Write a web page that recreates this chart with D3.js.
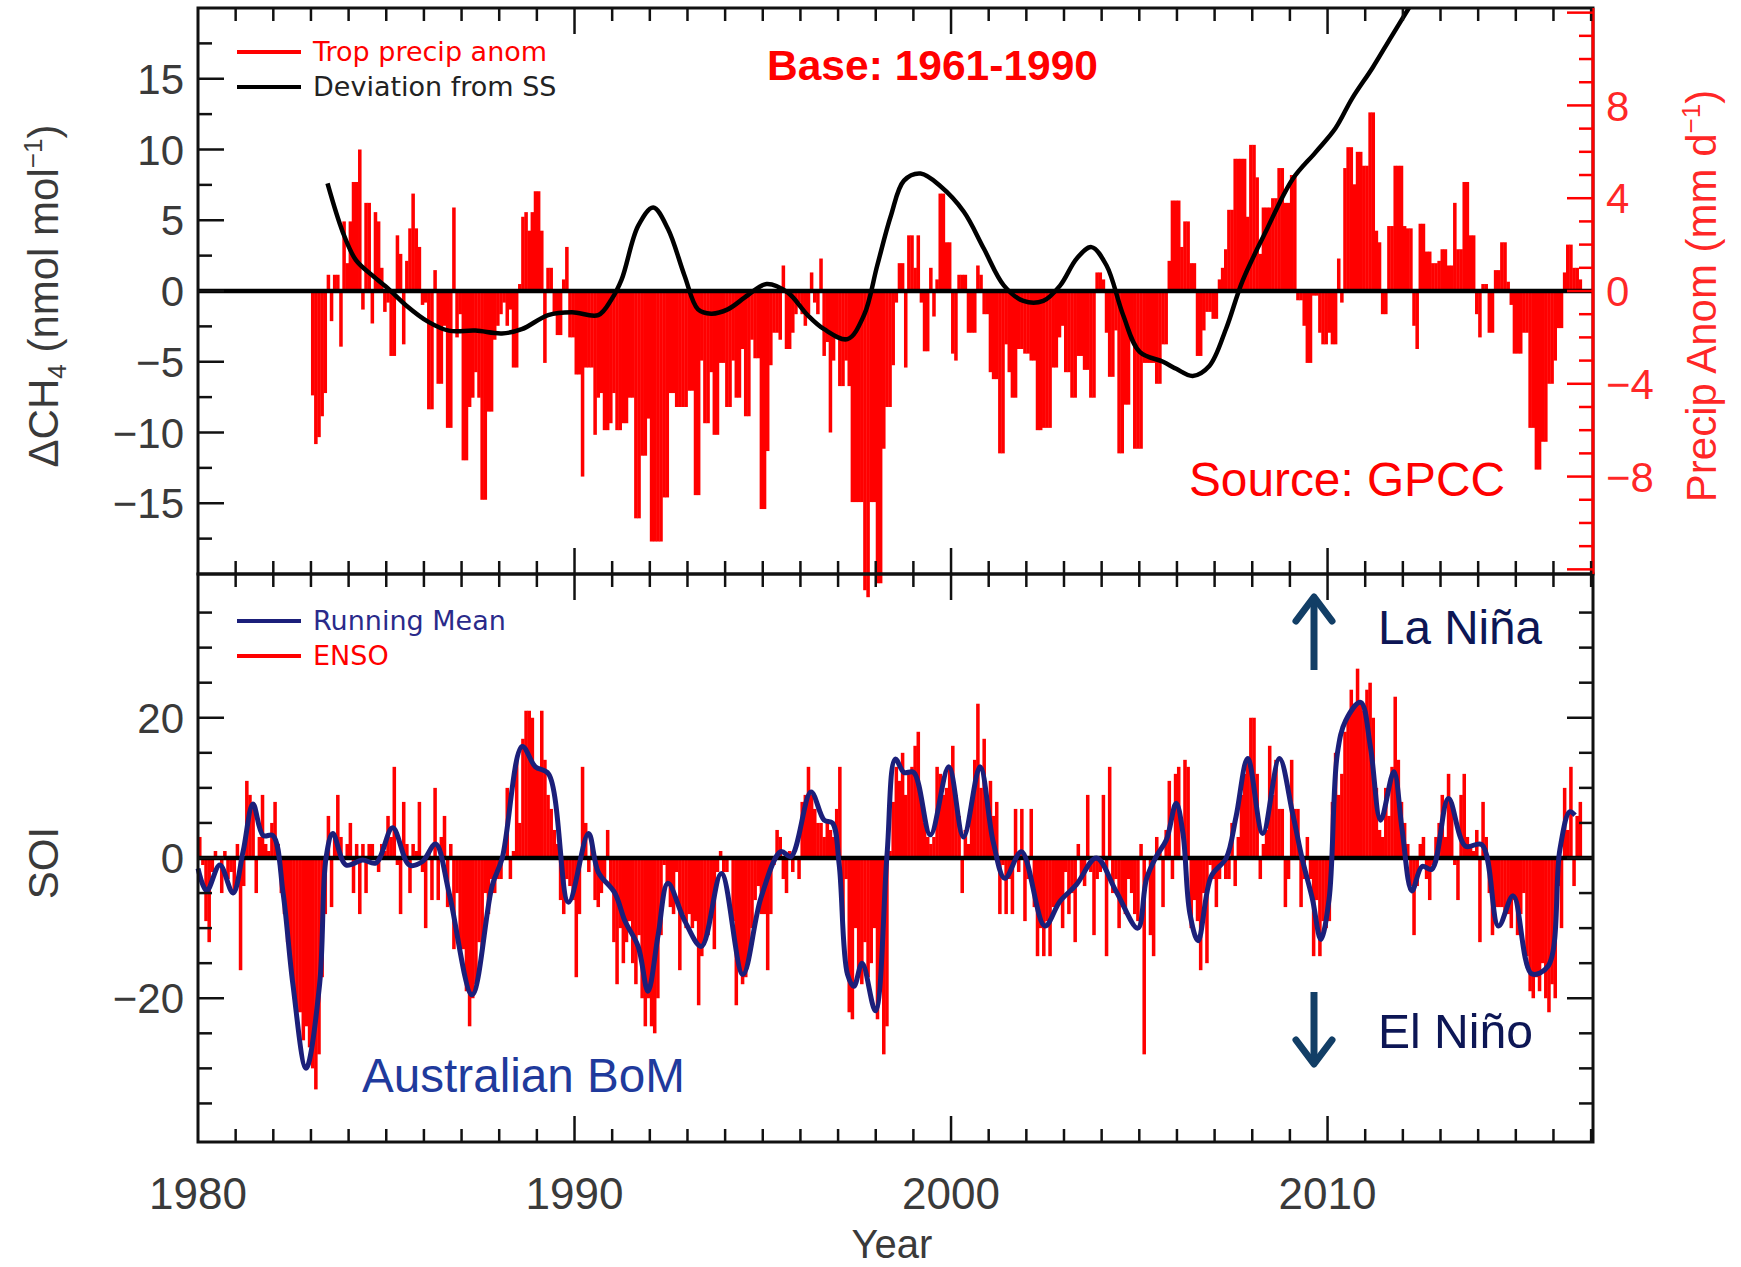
<!DOCTYPE html>
<html><head><meta charset="utf-8">
<script src="https://cdn.jsdelivr.net/npm/d3@7"></script>
<style>body{margin:0;background:#fff}</style>
</head><body>
<svg id="c" width="1741" height="1267"></svg>
<script>
// ---------- DATA ----------
const precipStartYear = 1983;
// Tropical precipitation anomaly (mm/d), monthly, 1983 .. 2016.75
const precip = [
 [-4.5,-6.6,-6.3,-5.4,-4.4,0.7,-1.3,0.7,0.7,-2.4,3.0,1.2],
 [3.0,4.7,4.7,6.1,-0.8,3.8,3.8,-1.4,3.4,3.0,1.0,-0.9],
 [-0.5,-2.8,-2.8,2.4,1.6,-2.3,1.3,2.7,4.2,2.7,1.9,-0.6],
 [-0.5,-5.1,-5.1,0.9,-4.0,-4.0,-1.5,-5.9,-5.9,3.6,-2.0,-1.0],
 [-7.3,-7.3,-5.0,-4.6,-3.5,-4.6,-9.0,-9.0,-5.2,-5.2,-2.1,-1.5],
 [-1.0,-0.5,-1.5,-0.8,-3.3,-3.3,0.3,3.2,3.4,2.6,3.4,4.3],
 [4.3,2.6,-3.1,1.0,1.0,-1.0,-1.9,-1.9,0.5,1.9,-2.0,-2.0],
 [-3.6,-3.6,-8.0,-3.3,-3.3,-3.3,-6.2,-4.6,-4.4,-6.0,-6.0,-5.7],
 [-4.4,-6.0,-6.0,-5.7,-5.7,-4.6,-4.6,-9.8,-9.8,-7.1,-7.1,-5.5],
 [-10.8,-10.8,-10.8,-10.8,-8.9,-8.9,-4.4,-4.4,-5.0,-5.0,-5.0,-5.0],
 [-4.3,-4.3,-8.8,-8.8,-3.0,-5.7,-5.7,-3.5,-6.2,-6.2,-3.1,-3.1],
 [-5.0,-5.0,-3.0,-4.6,-4.6,-2.5,-5.4,-5.4,-2.1,-2.9,-2.9,-9.4],
 [-9.4,-6.9,-3.2,-1.8,-1.8,-2.1,1.1,-2.5,-2.5,-1.8,-1.0,-0.5],
 [-1.0,-1.5,-1.0,0.8,-0.5,-1.0,1.4,-2.8,-2.2,-6.1,-3.0,-2.0],
 [-4.1,-4.1,-3.0,-4.1,-9.1,-9.1,-9.1,-9.1,-12.9,-13.2,-9.1,-9.1],
 [-12.6,-12.6,-6.8,-5.0,-5.0,-3.2,-0.5,1.2,1.2,-3.3,2.4,2.4],
 [1.0,2.4,-0.5,-2.6,-2.6,1.0,-1.1,0.5,4.2,4.2,2.1,2.1],
 [-2.7,-3.0,0.7,0.7,0.7,-1.8,-1.8,-1.8,1.1,0.7,-1.0,-1.0],
 [-3.5,-3.8,-3.8,-7.0,-7.0,-2.3,-3.5,-4.6,-4.6,-2.5,-2.5,-2.7],
 [-2.7,-3.0,-3.0,-6.0,-6.0,-5.9,-5.9,-5.9,-3.3,-3.3,-2.0,-1.5],
 [-3.5,-3.5,-4.6,-4.6,-2.8,-2.8,-3.4,-3.4,-4.6,-4.6,0.8,0.8],
 [0.5,-1.8,-3.7,-3.7,-1.7,-7.0,-7.0,-4.9,-4.9,-2.0,-6.8,-6.8],
 [-6.8,-3.1,-3.1,-3.1,-3.1,-4.0,-4.0,-2.3,-2.3,1.3,3.9,3.9],
 [3.9,1.9,3.0,3.0,1.2,1.2,-2.8,-2.8,-1.7,-0.9,-0.9,-1.2],
 [-1.2,0.5,1.0,1.8,3.5,3.5,5.7,5.7,5.7,5.7,3.2,6.3],
 [6.3,4.9,1.6,3.6,3.6,3.6,4.0,4.0,5.3,5.3,3.8,3.8],
 [5.0,5.0,-0.4,-0.4,-1.5,-3.1,-3.1,-0.2,-0.2,-1.8,-2.3,-2.3],
 [-1.8,-2.3,-2.3,1.4,-0.5,5.3,6.2,6.2,4.6,6.0,6.0,5.4],
 [5.4,7.7,7.7,2.6,2.1,-1.0,-1.0,2.8,2.8,5.4,5.4,5.4],
 [2.8,2.7,2.7,-1.5,-2.5,2.9,2.9,1.7,1.7,1.2,1.2,1.3],
 [1.8,1.8,1.1,1.1,3.8,1.8,1.8,4.7,4.7,2.4,2.4,-1.0],
 [-2.0,0.3,0.3,-1.8,-1.8,0.9,0.9,2.1,2.1,0.4,-0.6,-2.7],
 [-2.7,-2.7,-1.8,-1.8,-5.9,-5.9,-7.7,-7.7,-6.5,-6.5,-4.0,-4.0],
 [-3.0,-1.6,-1.6,0.8,2.0,2.0,1.0,1.0,0.5]
];
// Deviation from steady state, CH4 (nmol/mol): [year, value]
const deviationSS = [
 [1983.44,7.6],[1983.84,4.2],[1984.19,2.2],[1984.63,1.1],[1985.08,0.1],[1985.52,-1.0],
 [1986.13,-2.2],[1986.66,-2.8],[1987.37,-2.8],[1988.07,-3.0],[1988.6,-2.7],[1989.3,-1.7],
 [1989.93,-1.5],[1990.63,-1.7],[1990.98,-0.6],[1991.25,0.8],[1991.69,4.6],[1992.09,5.9],
 [1992.48,4.4],[1992.92,1.1],[1993.28,-1.3],[1993.63,-1.6],[1994.07,-1.3],[1994.6,-0.3],
 [1995.1,0.5],[1995.66,-0.1],[1996.19,-1.7],[1996.63,-2.7],[1997.25,-3.4],[1997.69,-1.7],
 [1998.04,1.8],[1998.4,5.3],[1998.75,7.8],[1999.19,8.3],[1999.72,7.4],[2000.34,5.6],
 [2000.87,3.0],[2001.4,0.4],[2001.92,-0.7],[2002.45,-0.7],[2002.9,0.4],[2003.34,2.3],
 [2003.73,3.1],[2004.13,1.8],[2004.57,-1.7],[2005.01,-4.3],[2005.63,-5.0],[2005.98,-5.5],
 [2006.42,-6.0],[2006.86,-5.3],[2007.3,-2.7],[2007.74,0.7],[2008.36,4.2],[2009.07,7.9],
 [2009.68,9.8],[2010.21,11.5],[2010.65,13.6],[2011.2,15.8],[2011.7,18.0],[2012.3,20.6]
];
const soiStartYear = 1980;
// Southern Oscillation Index, monthly, 1980 .. 2016.75
const soi = [
 [3,-1,-9,-12,-2,1,0,-5,1,-3,-2,-5],
 [2,-16,-4,11,9,7,-5,3,9,2,1,5],
 [8,2,-5,-8,-12,-15,-20,-22,-22,-26,-24,-27],
 [-30,-33,-28,-17,-8,6,-7,3,9,3,0,2],
 [5,-5,2,-8,2,-5,2,2,0,-2,2,1],
 [6,3,13,-1,-8,8,2,-5,2,1,8,-2],
 [-10,1,-6,10,-6,3,6,-7,2,-13,-5,-13],
 [-13,-19,-24,-20,-18,-12,-13,-5,-8,-3,-5,-3],
 [-3,0,10,-3,1,14,5,17,21,21,20,13],
 [13,21,14,9,7,4,2,-6,-8,-3,-4,-6],
 [-17,-8,13,5,-2,2,-6,-7,-5,-3,4,-4],
 [-12,-18,-10,-15,-12,-9,-15,-18,-11,-20,-24,-20],
 [-24,-25,-20,-11,-1,-4,-7,-8,-2,-16,-8,-10],
 [-8,-10,-9,-21,-14,-12,-11,-8,-13,-2,1,-2],
 [-2,0,-9,-21,-16,-18,-17,-14,-10,-6,-4,-8],
 [-8,-16,-8,-1,4,3,-3,-5,1,-2,0,-3],
 [8,9,13,9,7,5,5,3,5,4,3,7],
 [13,-10,-3,-22,-23,-10,-17,-18,-12,-17,-15,-10],
 [-23,-19,-28,-24,1,8,13,11,15,9,12,13],
 [16,18,8,5,3,2,3,13,12,9,10,13],
 [16,9,6,-5,4,2,8,14,22,10,17,8],
 [11,6,8,-8,-1,-8,-3,-8,7,-2,7,-9],
 [-3,7,-7,-14,-10,-14,-9,-14,-7,-7,-6,-10],
 [-2,-8,-5,-12,2,-3,-4,9,-2,-11,-3,-2],
 [9,-14,13,-5,-3,-10,-7,-8,-3,-5,-8,-9],
 [2,-28,0,-11,-14,3,1,-7,4,11,-3,12],
 [13,0,14,13,-10,-6,-9,-16,-5,-15,-1,-3],
 [-7,-3,-1,-3,-3,5,-4,3,9,12,14,20],
 [20,12,-3,2,4,16,9,14,7,7,-7,-3],
 [14,7,7,-7,-3,3,-3,-14,-6,-14,-9,-10],
 [-9,8,15,9,12,18,20,24,22,27,22,21],
 [24,25,20,10,4,3,10,6,13,23,14,8],
 [5,2,-4,-11,-4,2,3,-3,-6,-1,3,5],
 [9,3,12,8,-1,-6,9,12,3,2,1,4],
 [-12,8,3,-5,-11,-7,-7,-7,-8,-8,-10,-6],
 [-11,-8,-5,-14,-19,-20,-17,-19,-15,-20,-22,-18],
 [-20,-4,-10,10,4,13,-4,6,8]
];
// Running mean of SOI as drawn: [year, value]
const soiRunningMean = [
 [1980.0,-1.5],[1980.23,-4.7],[1980.58,-1],[1980.93,-5],[1981.2,1],[1981.46,7.7],[1981.73,3.2],
 [1981.99,3.2],[1982.26,-5],[1982.52,-18],[1982.87,-30],[1983.23,-18],[1983.4,0],[1983.58,3.5],
 [1983.93,-1],[1984.37,-0.3],[1984.73,-0.7],[1985.17,4.3],[1985.61,-1],[1985.96,-0.5],[1986.31,2],
 [1986.67,-5],[1987.28,-19.5],[1987.81,-4],[1988.08,0],[1988.61,15.9],[1988.96,13],[1989.31,12],
 [1989.84,-6.3],[1990.37,3.5],[1990.63,-2],[1991.07,-5],[1991.34,-9],[1991.69,-12.6],[1991.95,-19],
 [1992.22,-11],[1992.48,-3.6],[1992.93,-9],[1993.37,-12.6],[1993.9,-2.2],[1994.47,-16.6],[1994.95,-5.7],
 [1995.48,0.9],[1995.75,0.2],[1996.28,9.4],[1996.63,5.4],[1996.85,5.0],[1997.03,-1],[1997.25,-16.6],
 [1997.42,-18.3],[1997.64,-15],[1997.99,-21.8],[1998.3,0.5],[1998.52,14.1],[1998.75,12.2],[1999.01,12.2],
 [1999.45,3.3],[1999.94,13],[2000.33,3],[2000.77,13],[2001.12,2.3],[2001.43,-2.9],[2001.87,0.9],
 [2002.49,-9.7],[2002.89,-6.2],[2003.33,-3.8],[2003.86,0],[2004.39,-4.8],[2004.96,-10],[2005.19,-3],
 [2005.45,0.2],[2005.72,2.6],[2005.98,7.8],[2006.16,3.5],[2006.34,-7.8],[2006.56,-11.8],[2006.91,-2.6],
 [2007.31,0],[2007.57,5.9],[2007.88,14.2],[2008.28,3.5],[2008.72,14.2],[2009.07,6.4],[2009.33,-0.2],
 [2009.6,-5.9],[2009.82,-11.6],[2010.04,-5.9],[2010.26,14.9],[2010.48,19.6],[2010.88,22.2],[2011.14,15.8],
 [2011.41,5.4],[2011.76,12.3],[2011.98,4],[2012.24,-4.7],[2012.51,-1.2],[2012.77,-1.6],[2013.21,8.5],
 [2013.66,1.7],[2014.1,1.9],[2014.54,-9.7],[2014.93,-5.4],[2015.42,-16.5],[2015.86,-15.4],[2016.17,1.2],
 [2016.43,6.6],[2016.57,6.1]
];
const xTickLabels = [1980,1990,2000,2010];
const leftTopTicks = [-15,-10,-5,0,5,10,15];
const rightTopTicks = [-8,-4,0,4,8];
const soiTicks = [-20,0,20];

// ---------- LAYOUT ----------
const L=198, R=1593, T1=8, B1=574, T2=574, B2=1142;
const svg=d3.select('#c');
const x=d3.scaleLinear([1980,2017.05],[L,R]);
const yL=d3.scaleLinear([-20,20],[B1,T1]);
const yR=d3.scaleLinear([-12.2,12.2],[B1,T1]);
const yS=d3.scaleLinear([-40.5,40.5],[B2,T2]);
const RED='#ff0000', NAVY='#1b1f7a';

function flat(arr,start){const o=[];arr.forEach((row,i)=>row.forEach((v,m)=>o.push({t:start+i+m/12,v})));return o;}
const pData=flat(precip,precipStartYear), sData=flat(soi,soiStartYear);
const mw=x(1980+1/12)-x(1980);

svg.append('g').selectAll('rect').data(pData).join('rect')
 .attr('x',d=>x(d.t)).attr('width',mw+0.4)
 .attr('y',d=>Math.min(yR(d.v),yR(0))).attr('height',d=>Math.abs(yR(d.v)-yR(0)))
 .attr('fill',RED);
svg.append('g').selectAll('rect').data(sData).join('rect')
 .attr('x',d=>x(d.t)).attr('width',mw+0.4)
 .attr('y',d=>Math.min(yS(d.v),yS(0))).attr('height',d=>Math.abs(yS(d.v)-yS(0)))
 .attr('fill',RED);

svg.append('line').attr('x1',L).attr('x2',R).attr('y1',yL(0)).attr('y2',yL(0)).attr('stroke','#000').attr('stroke-width',4.5);
svg.append('line').attr('x1',L).attr('x2',R).attr('y1',yS(0)).attr('y2',yS(0)).attr('stroke','#000').attr('stroke-width',4.5);

svg.append('clipPath').attr('id','cp1').append('rect').attr('x',L).attr('y',T1).attr('width',R-L).attr('height',B1-T1);
svg.append('path').datum(deviationSS).attr('clip-path','url(#cp1)')
 .attr('d',d3.line().x(d=>x(d[0])).y(d=>yL(d[1])).curve(d3.curveCatmullRom))
 .attr('fill','none').attr('stroke','#000').attr('stroke-width',4.5);
svg.append('path').datum(soiRunningMean)
 .attr('d',d3.line().x(d=>x(d[0])).y(d=>yS(d[1])).curve(d3.curveCatmullRom))
 .attr('fill','none').attr('stroke',NAVY).attr('stroke-width',5).attr('stroke-linejoin','round');

const fr=svg.append('g').attr('fill','none').attr('stroke','#111').attr('stroke-width',3);
fr.append('rect').attr('x',L).attr('y',T1).attr('width',R-L).attr('height',B1-T1);
fr.append('rect').attr('x',L).attr('y',T2).attr('width',R-L).attr('height',B2-T2);
svg.append('line').attr('x1',R).attr('x2',R).attr('y1',T1).attr('y2',B1).attr('stroke',RED).attr('stroke-width',3);

const tk=svg.append('g').attr('stroke-width',2.5);
function hTick(yv,xs,len,dir,col){tk.append('line').attr('x1',xs).attr('x2',xs+dir*len).attr('y1',yv).attr('y2',yv).attr('stroke',col);}
function vTick(xv,ys,len,dir,col){tk.append('line').attr('x1',xv).attr('x2',xv).attr('y1',ys).attr('y2',ys+dir*len).attr('stroke',col);}
for(let yr=1981;yr<=2017;yr++){const maj=yr%10===0,len=maj?26:13;
 [[T1,1],[B1,-1],[T2,1],[B2,-1]].forEach(([y0,d])=>vTick(x(yr),y0,len,d,'#111'));}
d3.range(-17.5,20,2.5).forEach(v=>{const len=(v%5===0)?26:14;hTick(yL(v),L,len,1,'#111');});
d3.range(-12,13,1).forEach(v=>{const len=(v%4===0)?26:14;hTick(yR(v),R,len,-1,RED);});
d3.range(-40,41,5).forEach(v=>{if(v===40||v===-40)return;const len=(v%20===0)?26:14;hTick(yS(v),L,len,1,'#111');hTick(yS(v),R,len,-1,'#111');});

const FONT='Liberation Sans, Arial, sans-serif';
const fmt=d3.format('');
const lab=svg.append('g').attr('font-family',FONT).attr('font-size',42).attr('fill','#3a3a3a');
leftTopTicks.forEach(v=>lab.append('text').attr('x',184).attr('y',yL(v)).attr('dy','0.36em').attr('text-anchor','end').text(fmt(v)));
soiTicks.forEach(v=>lab.append('text').attr('x',184).attr('y',yS(v)).attr('dy','0.36em').attr('text-anchor','end').text(fmt(v)));
xTickLabels.forEach(v=>lab.append('text').attr('x',x(v)).attr('y',1209).attr('text-anchor','middle').attr('font-size',44).text(v));
rightTopTicks.forEach(v=>svg.append('text').attr('x',1606).attr('y',yR(v)).attr('dy','0.36em').attr('font-family',FONT).attr('font-size',42).attr('fill',RED).attr('fill-opacity',0.85).text(fmt(v)));

const t1=svg.append('text').attr('transform','translate(58,296) rotate(-90)').attr('text-anchor','middle').attr('font-family',FONT).attr('font-size',42).attr('fill','#3a3a3a');
t1.append('tspan').text('ΔCH');t1.append('tspan').attr('font-size',26).attr('dy',8).text('4');
t1.append('tspan').attr('dy',-8).text(' (nmol mol');t1.append('tspan').attr('font-size',26).attr('dy',-16).text('−1');t1.append('tspan').attr('dy',16).text(')');
svg.append('text').attr('transform','translate(58,863) rotate(-90)').attr('text-anchor','middle').attr('font-family',FONT).attr('font-size',42).attr('fill','#3a3a3a').text('SOI');
const t2=svg.append('text').attr('transform','translate(1716,296) rotate(-90)').attr('text-anchor','middle').attr('font-family',FONT).attr('font-size',42).attr('fill',RED).attr('fill-opacity',0.85);
t2.append('tspan').text('Precip Anom (mm d');t2.append('tspan').attr('font-size',26).attr('dy',-16).text('−1');t2.append('tspan').attr('dy',16).text(')');
svg.append('text').attr('x',892).attr('y',1258).attr('text-anchor','middle').attr('font-family',FONT).attr('font-size',40).attr('fill','#3a3a3a').text('Year');

const LF='DejaVu Sans, sans-serif';
function leg(y,col,txt,tcol){svg.append('line').attr('x1',237).attr('x2',301).attr('y1',y).attr('y2',y).attr('stroke',col).attr('stroke-width',4);
 svg.append('text').attr('x',313).attr('y',y).attr('dy','0.35em').attr('font-family',LF).attr('font-size',27).attr('fill',tcol).text(txt);}
leg(52,RED,'Trop precip anom',RED);
leg(87,'#000','Deviation from SS','#222');
leg(621,NAVY,'Running Mean','#2a2a8a');
leg(656,RED,'ENSO',RED);

svg.append('text').attr('x',767).attr('y',80).attr('font-family','Liberation Sans Narrow, Liberation Sans, Arial, sans-serif').attr('font-weight','bold').attr('font-size',42).attr('fill',RED).attr('textLength',331).attr('lengthAdjust','spacingAndGlyphs').text('Base: 1961-1990');
svg.append('text').attr('x',1189).attr('y',496).attr('font-family',FONT).attr('font-size',48).attr('fill',RED).attr('textLength',316).attr('lengthAdjust','spacingAndGlyphs').text('Source: GPCC');
svg.append('text').attr('x',362).attr('y',1092).attr('font-family',FONT).attr('font-size',48).attr('fill','#1f3a9c').attr('textLength',323).attr('lengthAdjust','spacingAndGlyphs').text('Australian BoM');
svg.append('text').attr('x',1378).attr('y',644).attr('font-family',FONT).attr('font-size',48).attr('fill','#0d1655').attr('textLength',164).attr('lengthAdjust','spacingAndGlyphs').text('La Niña');
svg.append('text').attr('x',1378).attr('y',1048).attr('font-family',FONT).attr('font-size',48).attr('fill','#0d1655').attr('textLength',155).attr('lengthAdjust','spacingAndGlyphs').text('El Niño');
const AC='#123e66', AX=1314;
svg.append('line').attr('x1',AX).attr('x2',AX).attr('y1',670).attr('y2',600).attr('stroke',AC).attr('stroke-width',7);
svg.append('path').attr('d',`M${AX-18},621 L${AX},597 L${AX+18},621`).attr('fill','none').attr('stroke',AC).attr('stroke-width',7).attr('stroke-linecap','round').attr('stroke-linejoin','round');
svg.append('line').attr('x1',AX).attr('x2',AX).attr('y1',992).attr('y2',1061).attr('stroke',AC).attr('stroke-width',7);
svg.append('path').attr('d',`M${AX-18},1040 L${AX},1064 L${AX+18},1040`).attr('fill','none').attr('stroke',AC).attr('stroke-width',7).attr('stroke-linecap','round').attr('stroke-linejoin','round');
</script>
</body></html>
